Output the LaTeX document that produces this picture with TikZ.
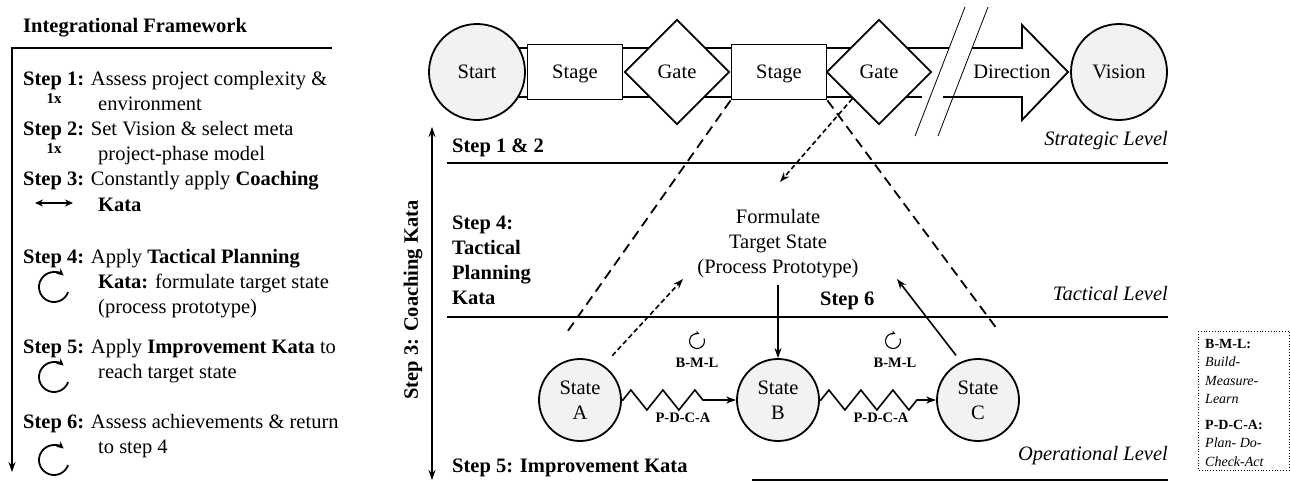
\documentclass[tikz,border=0pt]{standalone}
\usepackage{fontspec}
\setmainfont{Liberation Serif}
\usetikzlibrary{arrows.meta, shapes.geometric, decorations.pathmorphing}

\begin{document}
\begin{tikzpicture}[x=1pt, y=-1pt, >={Stealth[length=10pt, width=7pt]},
    txt/.style={font=\fontsize{20.5}{25}\selectfont, inner sep=0pt},
    steptxt/.style={txt, anchor=base west},
    boldtxt/.style={txt, font=\fontsize{20.5}{25}\selectfont\bfseries},
    leveltxt/.style={txt, font=\fontsize{20.5}{25}\selectfont\itshape, anchor=base east},
    tinybold/.style={inner sep=0pt, font=\fontsize{14.5}{16}\selectfont\bfseries, anchor=base},
    oncetxt/.style={inner sep=0pt, font=\fontsize{15}{16}\selectfont\bfseries, anchor=base},
    milestone/.style={circle, draw, line width=1.8pt, fill=gray!10, minimum size=96pt, txt, text depth=0pt},
    stagebox/.style={rectangle, draw, line width=1.8pt, fill=white, minimum width=95pt, minimum height=55pt, txt, text depth=0pt},
    gatebox/.style={diamond, draw, line width=1.8pt, fill=white, minimum size=105pt, txt, text depth=0pt},
    statenode/.style={circle, draw, line width=1.8pt, fill=gray!10, minimum size=82pt, align=center, txt},
    levelline/.style={line width=2.5pt},
    bandline/.style={line width=1.8pt},
    breakline/.style={line width=0.8pt},
    longdash/.style={line width=1.8pt, dash pattern=on 10pt off 6pt},
    shortdash/.style={->, line width=1.6pt, dash pattern=on 5pt off 3pt},
    solidarrow/.style={->, line width=1.6pt},
    zig/.style={->, line width=1.6pt, decorate,
        decoration={zigzag, segment length=32pt, amplitude=10pt, pre length=1pt, post length=19pt}},
    cyc/.style={-{Stealth[length=7pt, width=7pt]}, line width=1.8pt},
    cycsmall/.style={-{Stealth[length=4pt, width=4pt]}, line width=1.1pt}]
    \useasboundingbox (0,0) rectangle (1290,482);

    % Left panel: framework steps
    \draw[->, line width=2.5pt] (332,48) -- (12,48) -- (12,472);
    \node[boldtxt, anchor=base west] (title) at (23,32) {Integrational Framework};
    \node[steptxt] (s1) at (23,85) {\textbf{Step 1:} Assess project complexity \&};
    \node[steptxt] (s1b) at (98,110) {environment};
    \node[oncetxt] (once1) at (54,103) {1x};
    \node[steptxt] (s2) at (23,135) {\textbf{Step 2:} Set Vision \& select meta};
    \node[steptxt] (s2b) at (98,160) {project-phase model};
    \node[oncetxt] (once2) at (54,153) {1x};
    \node[steptxt] (s3) at (23,185) {\textbf{Step 3:} Constantly apply \textbf{Coaching}};
    \node[steptxt] (s3b) at (98,211) {\textbf{Kata}};
    \draw[{Stealth[length=8pt, width=7pt]}-{Stealth[length=8pt, width=7pt]}, line width=1.8pt] (35,203) -- (73,203);
    \node[steptxt] (s4) at (23,263) {\textbf{Step 4:} Apply \textbf{Tactical Planning}};
    \node[steptxt] (s4b) at (98,288) {\textbf{Kata:} formulate target state};
    \node[steptxt] (s4c) at (98,313) {(process prototype)};
    \node[steptxt] (s5) at (23,353) {\textbf{Step 5:} Apply \textbf{Improvement Kata} to};
    \node[steptxt] (s5b) at (98,378) {reach target state};
    \node[steptxt] (s6) at (23,428) {\textbf{Step 6:} Assess achievements \& return};
    \node[steptxt] (s6b) at (98,453) {to step 4};
    \foreach \y in {287,377,460}
        \draw[cyc] (54,\y) ++(20:15) arc[start angle=20, end angle=310, radius=15];

    % Coaching kata axis
    \coordinate (coachTop) at (432,127);
    \coordinate (coachBot) at (432,480);
    \draw[<->, line width=1.6pt] (coachTop) -- (coachBot);
    \node[boldtxt, rotate=90] (coach) at (413,300) {Step 3: Coaching Kata};

    % Stage-gate band
    \draw[bandline] (477,48) -- (949,48);
    \draw[bandline] (477,97) -- (922,97);
    \draw[bandline] (972,48) -- (1022,48) -- (1022,25) -- (1068,72) -- (1022,120) -- (1022,97) -- (943,97);
    \draw[breakline] (965,7) -- (915,136);
    \draw[breakline] (988,7) -- (938,136);

    \node[milestone] (start) at (477,72) {Start};
    \node[stagebox] (st1) at (575,72) {Stage};
    \node[gatebox] (g1) at (677,72) {Gate};
    \node[stagebox] (st2) at (779,72) {Stage};
    \node[gatebox] (g2) at (879,72) {Gate};
    \node[txt, text depth=0pt] (dir) at (1012,72) {Direction};
    \node[milestone] (vision) at (1119,72) {Vision};

    % Levels
    \draw[levelline] (447,163) -- (1168,163);
    \draw[levelline] (447,317) -- (1168,317);
    \draw[levelline] (752,480) -- (1168,480);
    \node[leveltxt] (strat) at (1168,145) {Strategic Level};
    \node[leveltxt] (tact) at (1168,300) {Tactical Level};
    \node[leveltxt] (oper) at (1168,460) {Operational Level};
    \node[boldtxt, anchor=base west] (step12) at (452,152) {Step 1 \& 2};
    \node[boldtxt, anchor=north west, align=left] (step4) at (452,216) {Step 4:\\Tactical\\Planning\\Kata};
    \node[boldtxt, anchor=base west] (step6) at (820,305) {Step 6};
    \node[boldtxt, anchor=base west] (step5) at (452,472) {Step 5: Improvement Kata};

    % Tactical and operational level
    \node[txt, align=center] (target) at (778,244) {Formulate\\Target State\\(Process Prototype)};
    \node[statenode] (sA) at (580,400) {State\\A};
    \node[statenode] (sB) at (778,400) {State\\B};
    \node[statenode] (sC) at (978,400) {State\\C};

    \coordinate (dashL) at (565,335);
    \coordinate (dashR) at (997,329);
    \coordinate (tgtTop) at (780,182);
    \coordinate (tgtSW) at (683,279);
    \coordinate (tgtSE) at (897,279);
    \draw[longdash] (st2.south west) -- (dashL);
    \draw[longdash] (st2.south east) -- (dashR);
    \draw[shortdash] (g2.south west) -- (tgtTop);
    \draw[shortdash, shorten <=13pt] (sA.56) -- (tgtSW);
    \draw[solidarrow, shorten <=8pt] (sC.114) -- (tgtSE);
    \draw[solidarrow, shorten <=6pt] (target) -- (sB);

    \draw[zig] (sA) -- (sB);
    \draw[zig] (sB) -- (sC);
    \node[tinybold] (bml1) at (697,367) {B-M-L};
    \node[tinybold] (pdca1) at (683,422) {P-D-C-A};
    \node[tinybold] (bml2) at (895,367) {B-M-L};
    \node[tinybold] (pdca2) at (881,422) {P-D-C-A};
    \foreach \x in {697,893}
        \draw[cycsmall] (\x,341) ++(-20:7.5) arc[start angle=-20, end angle=290, radius=7.5];

    % Legend
    \draw[dotted, line width=0.8pt] (1198,331) rectangle (1289,470);
    \node[anchor=north west, inner sep=0pt, align=left, font=\fontsize{14}{18.5}\selectfont] (legend) at (1205,339)
        {\textbf{B-M-L:}\\\textit{Build-}\\\textit{Measure-}\\\textit{Learn}\\[7pt]\textbf{P-D-C-A:}\\\textit{Plan- Do-}\\\textit{Check-Act}};
\end{tikzpicture}
\end{document}
